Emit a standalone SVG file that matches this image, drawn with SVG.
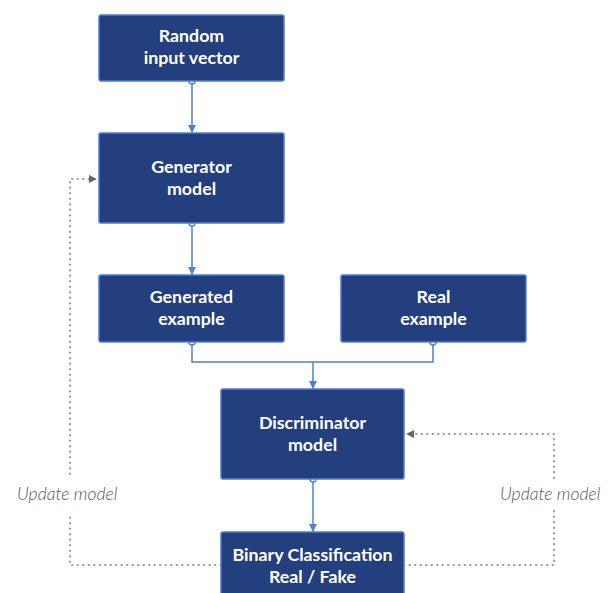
<svg xmlns="http://www.w3.org/2000/svg" width="616" height="593" viewBox="0 0 616 593">
<defs>
<style>
.box{fill:#233f7d;stroke:#4f7fd0;stroke-width:1.5}
.t{font-family:Lato,"Open Sans","DejaVu Sans",sans-serif;font-weight:bold;font-size:17.8px;fill:#ffffff;text-anchor:middle}
.lbl{font-family:Lato,"Open Sans","DejaVu Sans",sans-serif;font-style:italic;font-weight:300;font-size:17.5px;fill:#555555}
.solid{fill:none;stroke:#4f7fd0;stroke-width:1.5}
.dot{fill:none;stroke:#9a9a9a;stroke-width:2;stroke-dasharray:0.5 5;stroke-linecap:round}
.port{fill:#ffffff;stroke:#4f7fd0;stroke-width:1.5}
</style>
<marker id="ab" viewBox="0 0 10 10" refX="10" refY="5" markerWidth="8" markerHeight="8" markerUnits="userSpaceOnUse" orient="auto"><path d="M0,0 L10,5 L0,10 z" fill="#4f7fd0"/></marker>
<marker id="ag" viewBox="0 0 10 10" refX="10" refY="5" markerWidth="8" markerHeight="9" markerUnits="userSpaceOnUse" orient="auto"><path d="M0,0 L10,5 L0,10 z" fill="#666666"/></marker>
</defs>
<rect width="616" height="593" fill="#ffffff"/>
<g id="connectors">
<path class="solid" d="M192,81 V133" marker-end="url(#ab)"/>
<path class="solid" d="M192,223 V275" marker-end="url(#ab)"/>
<path class="solid" d="M192,342 V362 H433 V342"/>
<path class="solid" d="M313,362 V389" marker-end="url(#ab)"/>
<path class="solid" d="M313,479 V532" marker-end="url(#ab)"/>
<path class="dot" d="M221,565 H70 V513"/>
<path class="dot" d="M70,474 V179 H97" marker-end="url(#ag)"/>
<path class="dot" d="M404,565 H554 V510"/>
<path class="dot" d="M554,478 V434 H406" marker-end="url(#ag)"/>
<circle class="port" cx="192" cy="81" r="3"/>
<circle class="port" cx="192" cy="223" r="3"/>
<circle class="port" cx="192" cy="342" r="3"/>
<circle class="port" cx="433" cy="342" r="3"/>
<circle class="port" cx="313" cy="479" r="3"/>
<text class="lbl" x="17" y="500">Update model</text>
<text class="lbl" x="500" y="500">Update model</text>
</g>
<g id="random"><rect class="box" x="99" y="15" width="185" height="66" rx="2"/><text class="t" x="191.5" y="42">Random</text><text class="t" x="191.5" y="64">input vector</text></g>
<g id="generator"><rect class="box" x="99" y="133" width="185" height="90" rx="2"/><text class="t" x="191.5" y="173">Generator</text><text class="t" x="191.5" y="195">model</text></g>
<g id="generated"><rect class="box" x="99" y="275" width="185" height="67" rx="2"/><text class="t" x="191.5" y="303">Generated</text><text class="t" x="191.5" y="325">example</text></g>
<g id="real"><rect class="box" x="341" y="275" width="185" height="67" rx="2"/><text class="t" x="433.5" y="303">Real</text><text class="t" x="433.5" y="325">example</text></g>
<g id="discriminator"><rect class="box" x="221" y="389" width="183" height="90" rx="2"/><text class="t" x="312.5" y="429">Discriminator</text><text class="t" x="312.5" y="451">model</text></g>
<g id="binary"><rect class="box" x="221" y="532" width="183" height="70" rx="2"/><text class="t" x="312.5" y="561">Binary Classification</text><text class="t" x="312.5" y="583">Real / Fake</text></g>
</svg>
